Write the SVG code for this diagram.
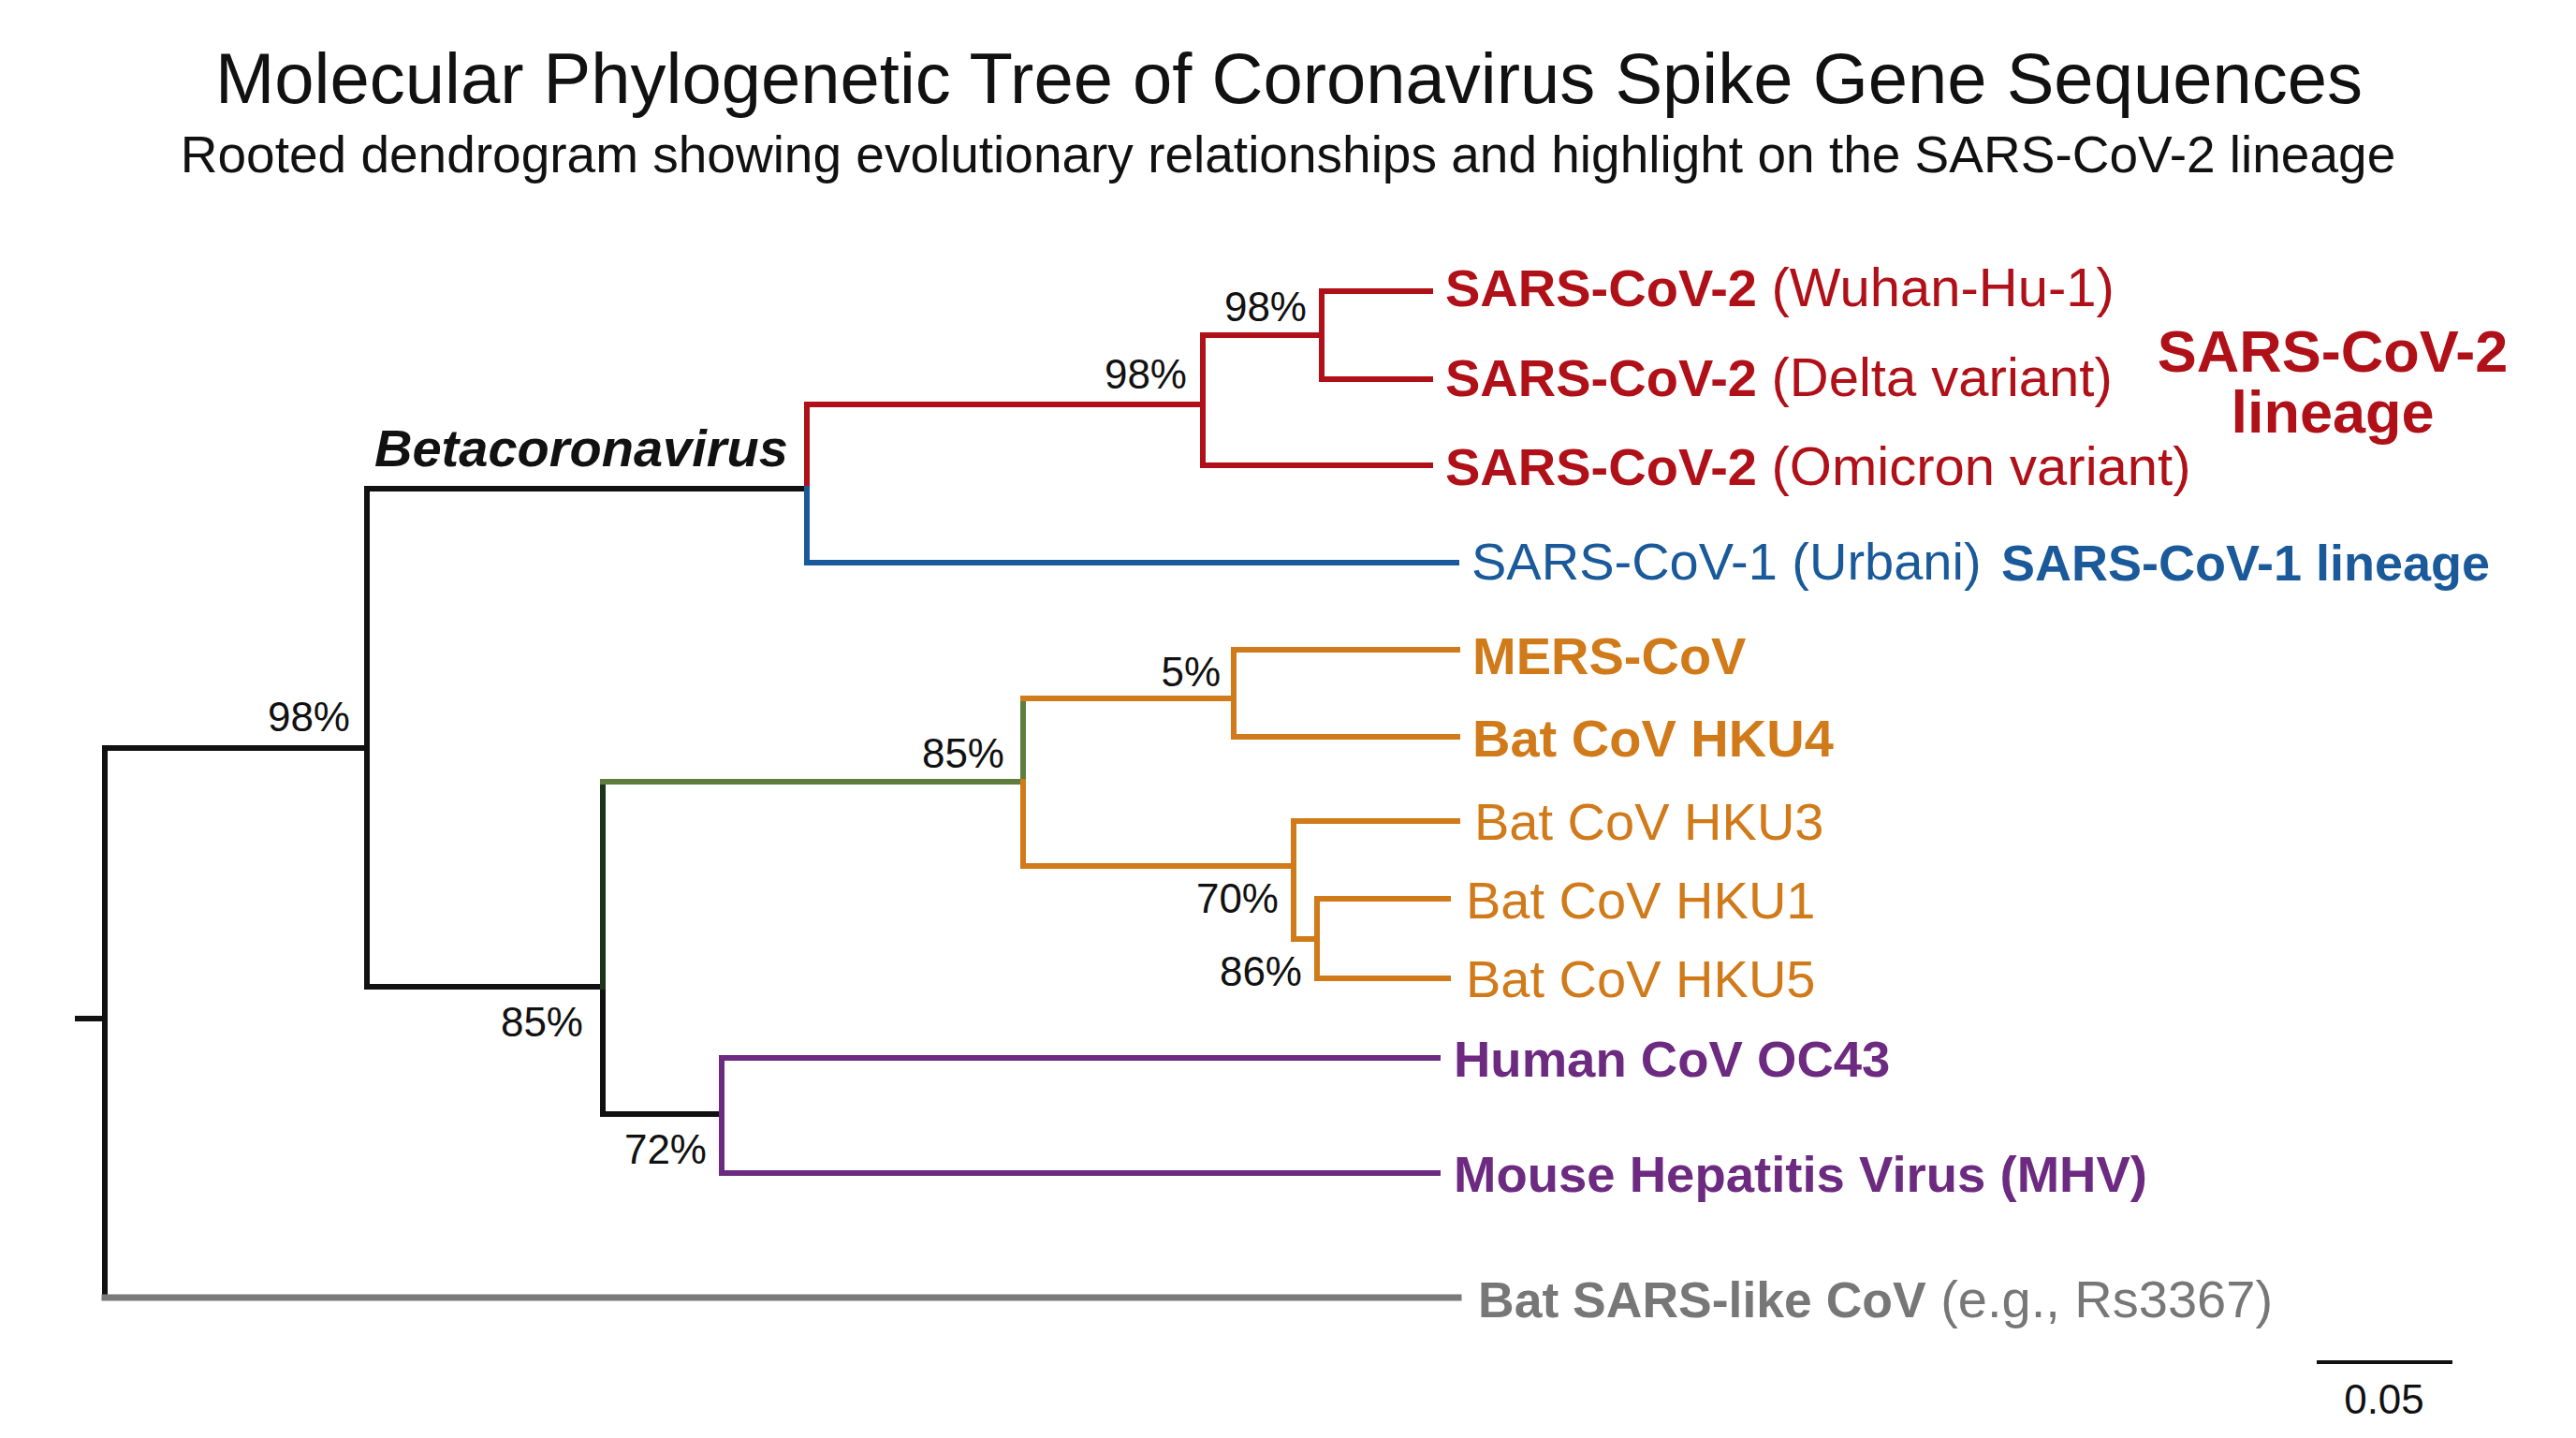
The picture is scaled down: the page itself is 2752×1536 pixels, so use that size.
<svg xmlns="http://www.w3.org/2000/svg" width="2752" height="1536" viewBox="0 0 2752 1536">
<style>
text{font-family:"Liberation Sans",Arial,Helvetica,sans-serif}
.br{fill:none;stroke-width:6;stroke-linecap:square;stroke-linejoin:miter}
.k{stroke:#111}.r{stroke:#b01018}.b{stroke:#1a5a9a}.o{stroke:#d07a1a}.p{stroke:#6c2a80}.g{stroke:#5f7d3c}.dg{stroke:#1c331c}.gy{stroke:#7a7a7a;stroke-width:7}
.lab{font-size:56px}
.sup{font-size:44px;fill:#111;text-anchor:end}
.bold{font-weight:bold}
.tr{fill:#b01018}.tb{fill:#1a5a9a}.to{fill:#d07a1a}.tp{fill:#6c2a80}.tg{fill:#777}
</style>
<rect width="2752" height="1536" fill="#fff"/>
<g id="title">
<text x="1377" y="110" font-size="76" text-anchor="middle" fill="#111">Molecular Phylogenetic Tree of Coronavirus Spike Gene Sequences</text>
<text x="1376" y="184" font-size="55" text-anchor="middle" fill="#111">Rooted dendrogram showing evolutionary relationships and highlight on the SARS-CoV-2 lineage</text>
</g>
<g id="connectors">
<path class="br k" d="M83 1088H112"/>
<path class="br k" d="M392 799H112V1386"/>
<path class="br gy" d="M112 1386H1558"/>
<path class="br k" d="M862 522H392V1054H644V1190"/>
<path class="br r" d="M862 522V432H1285"/>
<path class="br b" d="M862 522V601H1556"/>
<path class="br r" d="M1412 358H1285V497H1528"/>
<path class="br r" d="M1528 311H1412V405H1528"/>
<path class="br dg" d="M644 1054V835"/>
<path class="br g" d="M644 835H1093V746"/>
<path class="br o" d="M1093 835V925H1382"/>
<path class="br o" d="M1093 746H1318"/>
<path class="br o" d="M1557 694H1318V787H1557"/>
<path class="br o" d="M1557 877H1382V1003H1407"/>
<path class="br o" d="M1547 960H1407V1045H1547"/>
<path class="br k" d="M644 1190H771"/>
<path class="br p" d="M1536 1130H771V1253H1536"/>
</g>
<g id="supports">
<text class="sup" x="374" y="781">98%</text>
<text class="sup" x="1268" y="415">98%</text>
<text class="sup" x="1396" y="343">98%</text>
<text class="sup" x="623" y="1107">85%</text>
<text class="sup" x="1073" y="820">85%</text>
<text class="sup" x="1304" y="733">5%</text>
<text class="sup" x="1366" y="975">70%</text>
<text class="sup" x="1391" y="1053">86%</text>
<text class="sup" x="755" y="1243">72%</text>
</g>
<g id="clade-betacoronavirus">
<text x="400" y="498" font-size="56" font-weight="bold" font-style="italic" fill="#111">Betacoronavirus</text>
</g>
<g id="leaf-wuhan"><text class="lab tr" x="1544" y="327"><tspan class="bold">SARS-CoV-2</tspan> <tspan font-size="58">(Wuhan-Hu-1)</tspan></text></g>
<g id="leaf-delta"><text class="lab tr" x="1544" y="423"><tspan class="bold">SARS-CoV-2</tspan> <tspan font-size="58">(Delta variant)</tspan></text></g>
<g id="leaf-omicron"><text class="lab tr" x="1544" y="518"><tspan class="bold">SARS-CoV-2</tspan> <tspan font-size="58">(Omicron variant)</tspan></text></g>
<g id="lineage-sars2">
<text x="2492" y="397" font-size="63" font-weight="bold" text-anchor="middle" class="tr">SARS-CoV-2</text>
<text x="2492" y="462" font-size="63" font-weight="bold" text-anchor="middle" class="tr">lineage</text>
</g>
<g id="leaf-urbani"><text class="lab tb" x="1572" y="619">SARS-CoV-1 (Urbani)</text></g>
<g id="lineage-sars1"><text x="2138" y="620" font-size="54" font-weight="bold" class="tb">SARS-CoV-1 lineage</text></g>
<g id="leaf-mers"><text class="lab bold to" x="1573" y="720">MERS-CoV</text></g>
<g id="leaf-hku4"><text class="lab bold to" x="1573" y="808">Bat CoV HKU4</text></g>
<g id="leaf-hku3"><text class="lab to" x="1575" y="897">Bat CoV HKU3</text></g>
<g id="leaf-hku1"><text class="lab to" x="1566" y="981">Bat CoV HKU1</text></g>
<g id="leaf-hku5"><text class="lab to" x="1566" y="1065">Bat CoV HKU5</text></g>
<g id="leaf-oc43"><text class="bold tp" font-size="54.5" x="1553" y="1150">Human CoV OC43</text></g>
<g id="leaf-mhv"><text class="bold tp" font-size="54.5" x="1553" y="1273">Mouse Hepatitis Virus (MHV)</text></g>
<g id="leaf-batsars"><text class="lab tg" x="1579" y="1407"><tspan class="bold" font-size="53.5">Bat SARS-like CoV</tspan> (e.g., Rs3367)</text></g>
<g id="scale-bar">
<path d="M2475 1455H2620" stroke="#111" stroke-width="4"/>
<text x="2547" y="1510" font-size="44" text-anchor="middle" fill="#111">0.05</text>
</g>
</svg>
